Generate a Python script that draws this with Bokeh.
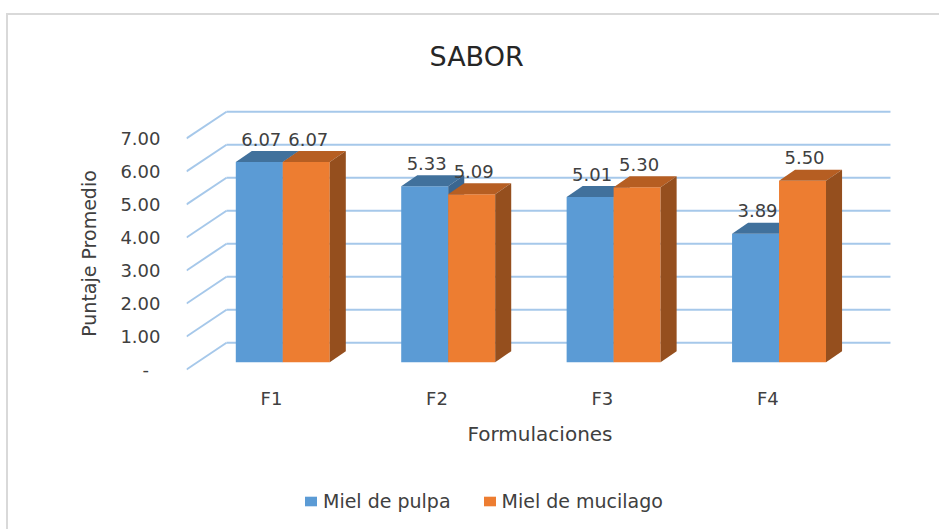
import numpy as np
from bokeh.plotting import figure
from bokeh.layouts import column
from bokeh.models import ColumnDataSource, FixedTicker, Legend, LegendItem, Range1d
from bokeh.core.properties import value
from bokeh.embed import file_html
from bokeh.resources import INLINE

# ---- data ----
categories = ["F1", "F2", "F3", "F4"]
miel_pulpa = [6.07, 5.33, 5.01, 3.89]
miel_mucilago = [6.07, 5.09, 5.30, 5.50]
series_names = ["Miel de pulpa", "Miel de mucilago"]
y_ticks = [0, 1, 2, 3, 4, 5, 6, 7]
y_tick_labels = ["-\u2007", "1.00", "2.00", "3.00", "4.00", "5.00", "6.00", "7.00"]

# ---- style / pseudo-3D geometry (data units) ----
FONT = "DejaVu Sans"
TXT = "#404040"
GRID = "#a6c8ea"
BAR_W = 0.284
BAR_DX = 0.068
BAR_DY = 0.22
DEPTH_X = 0.097
DEPTH_Y = 0.333
WALL_DX = 0.2417
WALL_DY = 0.81
X0, X1 = -0.514, 3.76
Y0, Y1 = -1.0, 8.03

faces = {
    "Miel de pulpa": ("#5b9bd5", "#41719c", "#3a6690"),
    "Miel de mucilago": ("#ed7d31", "#b65e22", "#954f1e"),
}

p = figure(frame_width=707, frame_height=298, output_backend="svg", toolbar_location=None,
           x_range=Range1d(X0, X1), y_range=Range1d(Y0, Y1),
           min_border_left=186, min_border_right=46, min_border_top=104,
           min_border_bottom=60, title="SABOR")
p.outline_line_color = None
p.grid.visible = False
p.background_fill_color = None
p.border_fill_color = None

# back wall gridlines + left wall diagonals
n = len(categories)
yt = np.array(y_ticks, dtype=float)
p.segment(x0=[X0 + WALL_DX] * len(yt), y0=yt + WALL_DY,
          x1=[n - 0.5 + WALL_DX] * len(yt), y1=yt + WALL_DY,
          line_color=GRID, line_width=2)
p.segment(x0=[X0] * len(yt), y0=yt, x1=[X0 + WALL_DX] * len(yt), y1=yt + WALL_DY,
          line_color=GRID, line_width=2)

xs = np.arange(n, dtype=float)
for k, (name, vals) in enumerate(zip(series_names, [miel_pulpa, miel_mucilago])):
    v = np.array(vals)
    left = xs + BAR_DX - BAR_W + k * BAR_W
    right = left + BAR_W
    bottom = np.full(n, BAR_DY)
    top = v + BAR_DY
    front_c, top_c, side_c = faces[name]
    p.quad(left=left, right=right, bottom=bottom, top=top,
           fill_color=front_c, line_color=None)
    top_x = [[l, rr, rr + DEPTH_X, l + DEPTH_X] for l, rr in zip(left, right)]
    top_y = [[t, t, t + DEPTH_Y, t + DEPTH_Y] for t in top]
    p.patches(top_x, top_y, fill_color=top_c, line_color=None)
    side_x = [[rr, rr, rr + DEPTH_X, rr + DEPTH_X] for rr in right]
    side_y = [[b, t, t + DEPTH_Y, b + DEPTH_Y] for b, t in zip(bottom, top)]
    p.patches(side_x, side_y, fill_color=side_c, line_color=None)
    src = ColumnDataSource(dict(x=(left + right) / 2 + 0.012,
                                y=v + BAR_DY + DEPTH_Y / 2 + 0.527,
                                t=["%.2f" % a for a in vals]))
    p.text(x="x", y="y", text="t", source=src, text_align="center",
           text_baseline="middle", text_font=value(FONT),
           text_font_size="18px", text_color=TXT)

# axes
p.yaxis.ticker = FixedTicker(ticks=y_ticks)
p.yaxis.major_label_overrides = {t: l for t, l in zip(y_ticks, y_tick_labels)}
p.xaxis.ticker = FixedTicker(ticks=list(range(n)))
p.xaxis.major_label_overrides = {i: c for i, c in enumerate(categories)}
for ax in (p.xaxis, p.yaxis):
    ax.axis_line_color = None
    ax.major_tick_line_color = None
    ax.minor_tick_line_color = None
    ax.major_tick_in = 0
    ax.major_tick_out = 0
    ax.major_label_text_font = FONT
    ax.major_label_text_font_size = "18px"
    ax.major_label_text_color = TXT
    ax.axis_label_text_font = FONT
    ax.axis_label_text_font_style = "normal"
    ax.axis_label_text_color = TXT
p.yaxis.major_label_standoff = 26
p.yaxis.axis_label = "Puntaje Promedio"
p.yaxis.axis_label_text_font_size = "19px"
p.yaxis.axis_label_standoff = 17
p.xaxis.major_label_standoff = -15
p.xaxis.axis_label = "Formulaciones"
p.xaxis.axis_label_text_font_size = "20px"
p.xaxis.axis_label_standoff = 10

# title
p.title.text_font = FONT
p.title.text_font_size = "27px"
p.title.text_font_style = "normal"
p.title.text_color = "#262626"
p.title.align = "left"
p.title.offset = 243
p.title.standoff = 66

# legend strip below the chart
lg = figure(width=939, height=67, output_backend="svg", toolbar_location=None,
            x_range=Range1d(0, 1), y_range=Range1d(0, 1), min_border=0)
lg.outline_line_color = None
lg.axis.visible = False
lg.grid.visible = False
lg.background_fill_color = None
lg.border_fill_color = None
items = []
for name in series_names:
    r = lg.quad(left=[np.nan], right=[np.nan], bottom=[np.nan], top=[np.nan],
                fill_color=faces[name][0], line_color=None)
    items.append(LegendItem(label=name, renderers=[r]))
legend = Legend(items=items, orientation="horizontal", location=(117, 17),
                label_text_font=FONT, label_text_font_size="19px",
                label_text_color=TXT, glyph_width=15, glyph_height=12,
                label_standoff=5, spacing=31, border_line_color=None,
                background_fill_alpha=0, margin=0, padding=0)
lg.add_layout(legend, "center")

layout = column(p, lg, spacing=0)
layout.styles = {"box-shadow": "inset 6px 13px 0 0 #ffffff, inset 8px 15px 0 0 #d9d9d9"}
open("out.html", "w").write(file_html(layout, INLINE))
